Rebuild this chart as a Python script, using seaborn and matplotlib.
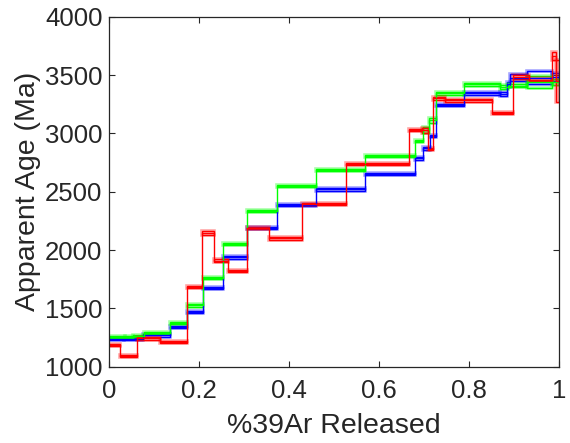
import matplotlib
matplotlib.use("Agg")
import matplotlib.pyplot as plt
from matplotlib.patches import Rectangle
import seaborn as sns
import pandas as pd

# Cumulative 39Ar fraction step edges, apparent ages and 1-sigma errors (Ma)
blue_edges = [0.0, 0.033, 0.075, 0.135, 0.172, 0.209, 0.253, 0.305, 0.372, 0.459, 0.569,
              0.680, 0.698, 0.713, 0.727, 0.788, 0.868, 0.883, 0.890, 0.929, 0.985, 1.0]
blue_ages = [1235, 1240, 1268, 1343, 1471, 1677, 1937, 2191, 2386, 2520,
             2649, 2786, 2871, 2977, 3243, 3343, 3338, 3420, 3477, 3477, 3480]
blue_errs = [10, 10, 10, 10, 10, 10, 10, 10, 10, 10,
             10, 10, 10, 10, 10, 10, 15, 20, 28, 57, 35]

green_edges = [0.0, 0.035, 0.053, 0.076, 0.135, 0.172, 0.209, 0.253, 0.305, 0.372, 0.459,
               0.569, 0.680, 0.698, 0.710, 0.727, 0.788, 0.868, 0.886, 0.929, 0.985, 1.0]
green_ages = [1253, 1257, 1265, 1290, 1377, 1526, 1763, 2051, 2334, 2549,
              2686, 2806, 2935, 3029, 3114, 3343, 3420, 3400, 3410, 3440, 3440]
green_errs = [10, 10, 10, 10, 10, 10, 10, 10, 10, 10,
              10, 10, 10, 22, 22, 10, 10, 18, 14, 55, 28]

red_edges = [0.0, 0.024, 0.062, 0.113, 0.172, 0.205, 0.233, 0.264, 0.307, 0.355, 0.428,
             0.526, 0.665, 0.696, 0.709, 0.720, 0.747, 0.850, 0.898, 0.933, 0.985, 0.993, 1.0]
red_ages = [1186, 1091, 1243, 1214, 1686, 2146, 1909, 1820, 2191, 2100,
            2392, 2737, 3029, 3026, 2866, 3300, 3283, 3175, 3483, 3460, 3660, 3450]
red_errs = [12, 10, 10, 10, 10, 18, 10, 10, 10, 10,
            10, 10, 10, 24, 10, 10, 10, 12, 14, 14, 35, 180]

x_ticks = [0, 0.2, 0.4, 0.6, 0.8, 1]
x_tick_labels = ["0", "0.2", "0.4", "0.6", "0.8", "1"]
y_ticks = [1000, 1500, 2000, 2500, 3000, 3500, 4000]

samples = [
    ("blue", (0, 0, 1), blue_edges, blue_ages, blue_errs),
    ("green", (0, 1, 0), green_edges, green_ages, green_errs),
    ("red", (1, 0, 0), red_edges, red_ages, red_errs),
]

sns.set_theme(style="white")
plt.rcParams["font.family"] = ["Liberation Sans", "DejaVu Sans"]

fig = plt.figure(figsize=(5.7, 4.43), dpi=100)
ax = fig.add_axes([0.1918, 0.1722, 0.7893, 0.7901])

for name, col, edges, ages, errs in samples:
    df = pd.DataFrame({"x": edges, "age": list(ages) + [ages[-1]]})
    sns.lineplot(data=df, x="x", y="age", ax=ax, color=col, lw=1.0,
                 drawstyle="steps-post", estimator=None, sort=False, legend=False)
    for i, (a, e) in enumerate(zip(ages, errs)):
        x0, x1 = edges[i], edges[i + 1]
        ax.add_patch(Rectangle((x0, a - e), x1 - x0, 2 * e, fill=False,
                               edgecolor=col, lw=2.6, alpha=0.35))
        ax.add_patch(Rectangle((x0, a - e), x1 - x0, 2 * e, fill=False,
                               edgecolor=col, lw=1.0))

ax.set_xlim(0, 1)
ax.set_ylim(1000, 4000)
ax.set_xticks(x_ticks)
ax.set_xticklabels(x_tick_labels)
ax.set_yticks(y_ticks)
ax.set_xlabel("%39Ar Released", fontsize=20.5, color="#262626", labelpad=7)
ax.set_ylabel("Apparent Age (Ma)", fontsize=20.5, color="#262626", labelpad=3)
ax.tick_params(axis="both", which="both", direction="in", length=4, width=0.8,
               labelsize=18.5, colors="#262626", top=True, right=True,
               bottom=True, left=True, pad=5)
ax.tick_params(axis="x", pad=9)
for s in ax.spines.values():
    s.set_visible(True)
    s.set_color("#262626")
    s.set_linewidth(0.9)
ax.grid(False)

fig.savefig("out.png", dpi=100)
